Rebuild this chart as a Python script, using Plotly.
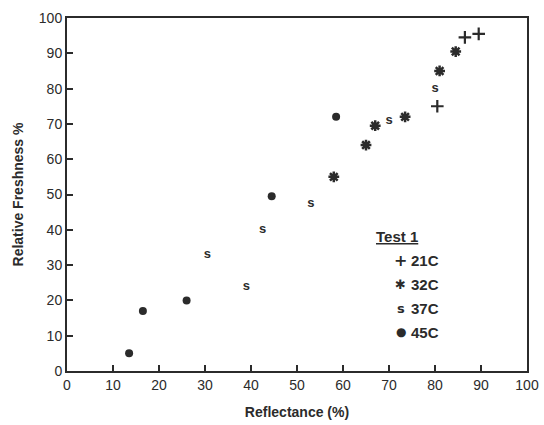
import plotly.graph_objects as go

# Data
x_21C = [80.5, 86.5, 89.5]
y_21C = [75, 94.5, 95.5]

x_32C = [58, 65, 67, 73.5, 81, 84.5]
y_32C = [55, 64, 69.5, 72, 85, 90.5]

x_37C = [30.5, 39, 42.5, 53, 70, 80]
y_37C = [33, 24, 40, 47.5, 71, 80]

x_45C = [13.5, 16.5, 26, 44.5, 58.5]
y_45C = [5, 17, 20, 49.5, 72]

legend_labels = ["21C", "32C", "37C", "45C"]
legend_symbols = ["+", "✱", "s", "●"]

ink = "#2b2b2b"
font_fam = "Liberation Sans, Arial, sans-serif"

fig = go.Figure()
fig.add_trace(go.Scatter(x=x_21C, y=y_21C, mode="markers", name="21C",
                         marker=dict(symbol="cross-thin", size=9, line=dict(width=2.2, color=ink), color=ink)))
fig.add_trace(go.Scatter(x=x_32C, y=y_32C, mode="markers", name="32C",
                         marker=dict(symbol="asterisk", size=9, line=dict(width=2.5, color=ink), color=ink)))
fig.add_trace(go.Scatter(x=x_37C, y=y_37C, mode="text", name="37C", text=["<b>s</b>"] * len(x_37C),
                         textfont=dict(family=font_fam, size=13, color=ink)))
fig.add_trace(go.Scatter(x=x_45C, y=y_45C, mode="markers", name="45C",
                         marker=dict(symbol="circle", size=8, color=ink)))

# Legend built as annotations (paper coords)
annotations = [dict(x=0.717, y=0.382, xref="paper", yref="paper", showarrow=False,
                    xanchor="center", yanchor="middle",
                    text="<b><u>Test 1</u></b>", font=dict(family=font_fam, size=15, color=ink))]
row_y = [0.314, 0.246, 0.178, 0.110]
sym_sizes = [16, 13, 13, 12]
for lab, sym, ry, ss in zip(legend_labels, legend_symbols, row_y, sym_sizes):
    annotations.append(dict(x=0.726, y=ry, xref="paper", yref="paper", showarrow=False,
                            xanchor="center", yanchor="middle",
                            text="<b>%s</b>" % sym, font=dict(family="DejaVu Sans", size=ss, color=ink)))
    annotations.append(dict(x=0.744, y=ry, xref="paper", yref="paper", showarrow=False,
                            xanchor="left", yanchor="middle",
                            text="<b>%s</b>" % lab, font=dict(family=font_fam, size=15, color=ink)))

axis_common = dict(range=[0, 100], dtick=10, tick0=0, showgrid=False, zeroline=False,
                   showline=True, linecolor=ink, linewidth=2, mirror=True, automargin=False,
                   ticks="inside", ticklen=6, tickwidth=2, tickcolor=ink,
                   tickfont=dict(family=font_fam, size=14, color=ink))

fig.update_layout(
    width=544, height=425,
    margin=dict(l=67, r=17, t=18, b=54),
    paper_bgcolor="white", plot_bgcolor="white",
    showlegend=False,
    annotations=annotations,
    xaxis=dict(**axis_common,
               title=dict(text="<b>Reflectance (%)</b>", font=dict(family=font_fam, size=14, color=ink), standoff=15)),
    yaxis=dict(**axis_common,
               title=dict(text="<b>Relative Freshness %</b>", font=dict(family=font_fam, size=14, color=ink), standoff=12)),
)

fig.write_html("out.html")
